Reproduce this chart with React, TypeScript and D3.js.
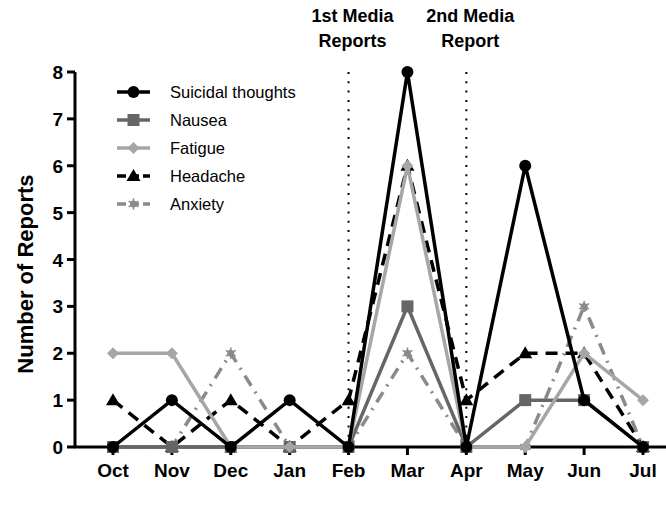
import React from "react";
import * as d3 from "d3";

const months = ["Oct", "Nov", "Dec", "Jan", "Feb", "Mar", "Apr", "May", "Jun", "Jul"];
const suicidal = [0, 1, 0, 1, 0, 8, 0, 6, 1, 0];
const nausea = [0, 0, 0, 0, 0, 3, 0, 1, 1, 0];
const fatigue = [2, 2, 0, 0, 0, 6, 0, 0, 2, 1];
const headache = [1, 0, 1, 0, 1, 6, 1, 2, 2, 0];
const anxiety = [0, 0, 2, 0, 0, 2, 0, 0, 3, 0];
const yTicks = [0, 1, 2, 3, 4, 5, 6, 7, 8];
const mediaEvents = [
  { month: "Feb", lines: ["1st Media", "Reports"] },
  { month: "Apr", lines: ["2nd Media", "Report"] },
];

const seriesList = [
  { name: "Suicidal thoughts", values: suicidal, color: "#000000", dash: "", marker: "circle", z: 4 },
  { name: "Nausea", values: nausea, color: "#666666", dash: "", marker: "square", z: 2 },
  { name: "Fatigue", values: fatigue, color: "#a6a6a6", dash: "", marker: "diamond", z: 3 },
  { name: "Headache", values: headache, color: "#000000", dash: "12,8", marker: "triangle", z: 0 },
  { name: "Anxiety", values: anxiety, color: "#8a8a8a", dash: "12,7,2,7", marker: "star", z: 1 },
];

const FONT = "'Liberation Sans', Arial, sans-serif";

function Marker({ type, x, y, color }: { type: string; x: number; y: number; color: string }) {
  if (type === "circle") return <circle cx={x} cy={y} r={6} fill={color} />;
  if (type === "square") return <rect x={x - 6} y={y - 6} width={12} height={12} fill={color} />;
  if (type === "diamond")
    return <path d={`M${x},${y - 6}L${x + 6},${y}L${x},${y + 6}L${x - 6},${y}Z`} fill={color} />;
  if (type === "triangle")
    return <path d={`M${x},${y - 7}L${x + 7},${y + 5}L${x - 7},${y + 5}Z`} fill={color} />;
  const p = d3.symbol().type(d3.symbolAsterisk).size(90)();
  return (
    <g transform={`translate(${x},${y})`}>
      <path d={p || ""} fill={color} stroke={color} strokeWidth={1.5} />
      <circle r={3.5} fill={color} />
    </g>
  );
}

export default function App() {
  const W = 666, H = 510;
  const x = d3.scalePoint<string>().domain(months).range([113, 643]);
  const y = d3.scaleLinear().domain([0, 8]).range([447, 72]);
  const line = d3
    .line<number>()
    .x((_, i) => x(months[i]) as number)
    .y((d) => y(d));
  const drawOrder = [...seriesList].sort((a, b) => a.z - b.z);

  return (
    <svg width={W} height={H} style={{ position: "absolute", left: 0, top: 0 }} fontFamily={FONT}>
      <rect width={W} height={H} fill="white" />
      {mediaEvents.map((e) => (
        <g key={e.month}>
          <line
            x1={x(e.month)}
            x2={x(e.month)}
            y1={y(8)}
            y2={y(0)}
            stroke="#000"
            strokeWidth={2}
            strokeDasharray="2,7.3"
          />
          {e.lines.map((t, i) => (
            <text
              key={t}
              x={(x(e.month) as number) + 4}
              y={22 + i * 25}
              textAnchor="middle"
              fontSize={18}
              fontWeight="bold"
            >
              {t}
            </text>
          ))}
        </g>
      ))}
      <line x1={75} x2={75} y1={y(8)} y2={y(0)} stroke="#000" strokeWidth={3} />
      <line x1={74} x2={666} y1={y(0)} y2={y(0)} stroke="#000" strokeWidth={3} />
      {yTicks.map((t) => (
        <g key={t}>
          <line x1={67} x2={75} y1={y(t)} y2={y(t)} stroke="#000" strokeWidth={3} />
          <text x={63} y={y(t) + 7} textAnchor="end" fontSize={19} fontWeight="bold">
            {t}
          </text>
        </g>
      ))}
      {months.map((m) => (
        <g key={m}>
          <line x1={x(m)} x2={x(m)} y1={y(0)} y2={y(0) + 8} stroke="#000" strokeWidth={3} />
          <text x={x(m)} y={y(0) + 30} textAnchor="middle" fontSize={19} fontWeight="bold">
            {m}
          </text>
        </g>
      ))}
      <text
        transform={`translate(33,274) rotate(-90)`}
        textAnchor="middle"
        fontSize={22}
        fontWeight="bold"
      >
        Number of Reports
      </text>
      {drawOrder.map((s) => (
        <g key={s.name}>
          <path
            d={line(s.values) || ""}
            fill="none"
            stroke={s.color}
            strokeWidth={3.5}
            strokeDasharray={s.dash || undefined}
          />
          {s.values.map((v, i) => (
            <Marker key={i} type={s.marker} x={x(months[i]) as number} y={y(v)} color={s.color} />
          ))}
        </g>
      ))}
      {seriesList.map((s, i) => {
        const ly = 92 + i * 28;
        return (
          <g key={s.name}>
            <line
              x1={117}
              x2={150}
              y1={ly}
              y2={ly}
              stroke={s.color}
              strokeWidth={3.5}
              strokeDasharray={s.dash ? "9,4" : undefined}
            />
            <Marker type={s.marker} x={133.5} y={ly} color={s.color} />
            <text x={170} y={ly + 6} fontSize={16.5}>
              {s.name}
            </text>
          </g>
        );
      })}
    </svg>
  );
}
